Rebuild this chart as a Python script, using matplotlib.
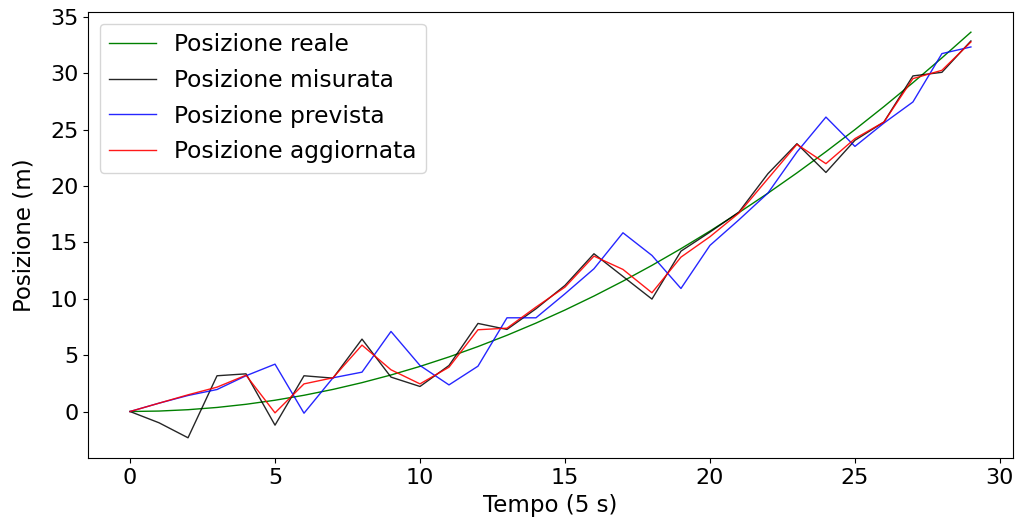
import matplotlib
matplotlib.use('Agg')
import matplotlib.pyplot as plt

# tempo (passi da 5 s)
tempo = list(range(30))

pos_reale = [0.0, 0.04, 0.16, 0.36, 0.64, 1.0, 1.44, 1.96, 2.56, 3.24,
             4.0, 4.84, 5.76, 6.76, 7.84, 9.0, 10.24, 11.56, 12.96, 14.44,
             16.0, 17.64, 19.36, 21.16, 23.04, 25.0, 27.04, 29.16, 31.36, 33.64]

pos_misurata = [0.0, -1.0, -2.33, 3.17, 3.34, -1.21, 3.17, 2.96, 6.42, 3.05,
                2.22, 4.08, 7.81, 7.28, 9.11, 11.18, 13.99, 11.98, 9.97, 14.22,
                15.91, 17.69, 21.09, 23.75, 21.2, 24.05, 25.67, 29.76, 30.08, 32.86]

pos_prevista = [0.0, 0.74, 1.42, 1.95, 3.17, 4.2, -0.15, 2.99, 3.49, 7.1,
                4.08, 2.36, 4.02, 8.31, 8.31, 10.44, 12.66, 15.85, 13.84, 10.91,
                14.73, 17.0, 19.37, 23.01, 26.11, 23.51, 25.58, 27.45, 31.74, 32.33]

pos_aggiornata = [0.0, 0.74, 1.48, 2.16, 3.22, -0.12, 2.45, 2.99, 5.89, 3.7,
                  2.45, 3.93, 7.25, 7.39, 9.26, 11.03, 13.78, 12.6, 10.53, 13.69,
                  15.5, 17.6, 20.65, 23.69, 21.98, 24.2, 25.67, 29.52, 30.26, 32.77]

fig = plt.figure(figsize=(10.16, 5.17), dpi=100)
ax = fig.add_axes([0.0866, 0.114, 0.9104, 0.863])

ax.plot(tempo, pos_reale, color='green', lw=1, label='Posizione reale')
ax.plot(tempo, pos_misurata, color='black', lw=1, alpha=0.85, label='Posizione misurata')
ax.plot(tempo, pos_prevista, color='blue', lw=1, alpha=0.85, label='Posizione prevista')
ax.plot(tempo, pos_aggiornata, color='red', lw=1, alpha=0.9, label='Posizione aggiornata')

ax.set_xlabel('Tempo (5 s)', fontsize=16.5, labelpad=4.5)
ax.set_ylabel('Posizione (m)', fontsize=16.5, labelpad=10)
ax.tick_params(labelsize=16)
ax.legend(loc='upper left', fontsize=16.8, labelspacing=0.55)

fig.savefig('out.png', dpi=100)
